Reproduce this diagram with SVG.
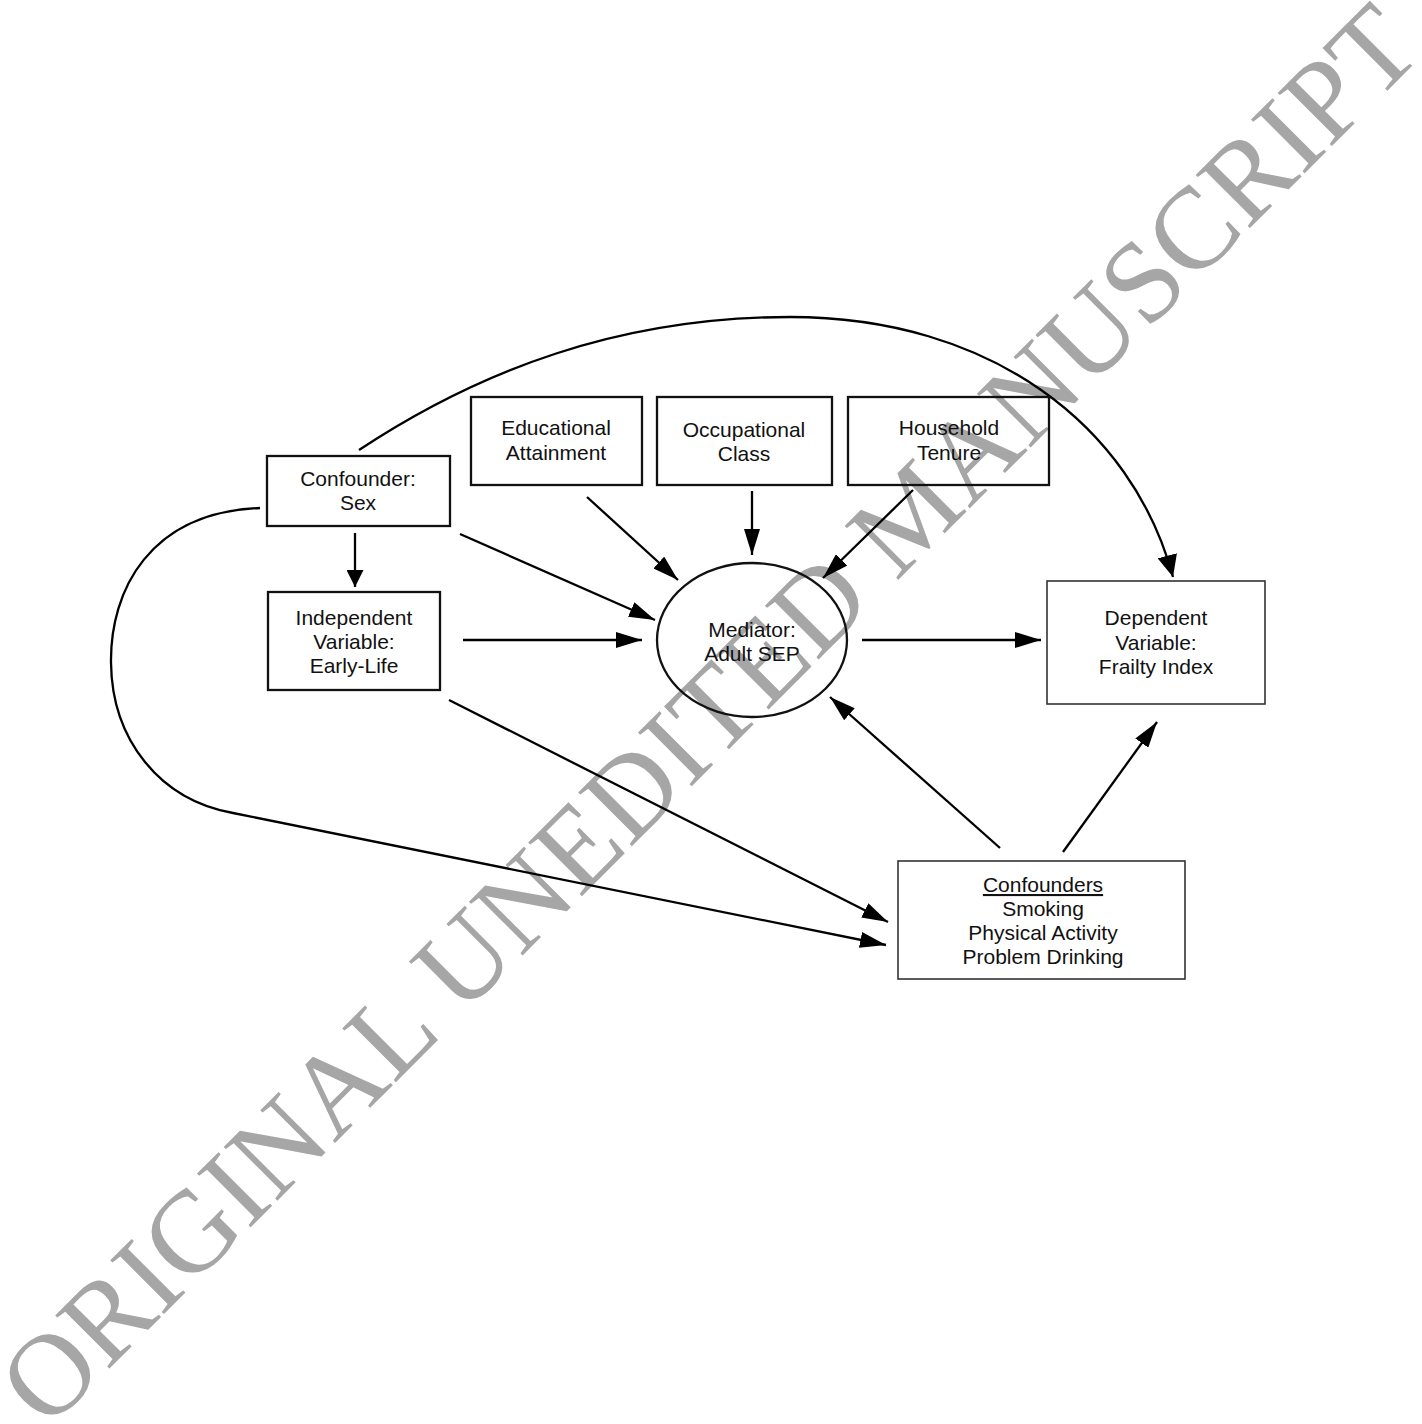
<svg xmlns="http://www.w3.org/2000/svg" width="1422" height="1424" viewBox="0 0 1422 1424">
<defs>
<style>
.box{fill:none;stroke:#111;stroke-width:2.3}
.thin{fill:none;stroke:#333;stroke-width:1.6}
.lbl{font-family:"Liberation Sans",Arial,sans-serif;font-size:21px;fill:#111;text-anchor:middle}
.edge{fill:none;stroke:#000;stroke-width:2.3}
.wm{font-family:"Liberation Serif","Times New Roman",serif;font-size:116px;fill:#a6a6a6;text-anchor:middle}
</style>
<marker id="ah" markerUnits="userSpaceOnUse" markerWidth="26" markerHeight="16" refX="26" refY="8" orient="auto">
<path d="M0,0 L26,8 L0,16 z" fill="#000"/>
</marker>
<marker id="ahs" markerUnits="userSpaceOnUse" markerWidth="22" markerHeight="20" refX="22" refY="10" orient="auto">
<path d="M0,0 L22,10 L0,20 z" fill="#000"/>
</marker>
<marker id="ahv" markerUnits="userSpaceOnUse" markerWidth="17" markerHeight="17" refX="17" refY="8.5" orient="auto">
<path d="M0,0 L17,8.5 L0,17 z" fill="#000"/>
</marker>
</defs>
<rect width="1422" height="1424" fill="#fff"/>
<text class="wm" transform="translate(736,742) rotate(-45)">ORIGINAL UNEDITED MANUSCRIPT</text>
<g id="connectors">
<path class="edge" d="M359,450 C480,370 620,317 790,317 C990,317 1132,425 1173,577" marker-end="url(#ahs)"/>
<path class="edge" d="M260,508 C150,512 110,590 111,663 C112,740 160,800 233,813 L886,945" marker-end="url(#ah)"/>
<line class="edge" x1="355" y1="533" x2="355" y2="587" marker-end="url(#ahv)"/>
<line class="edge" x1="460" y1="534" x2="655" y2="620" marker-end="url(#ah)"/>
<line class="edge" x1="463" y1="640" x2="642" y2="640" marker-end="url(#ah)"/>
<line class="edge" x1="587" y1="497" x2="678" y2="580" marker-end="url(#ah)"/>
<line class="edge" x1="752" y1="491" x2="752" y2="555" marker-end="url(#ah)"/>
<line class="edge" x1="913" y1="490" x2="823" y2="578" marker-end="url(#ah)"/>
<line class="edge" x1="862" y1="640" x2="1041" y2="640" marker-end="url(#ah)"/>
<line class="edge" x1="1000" y1="848" x2="830" y2="697" marker-end="url(#ah)"/>
<line class="edge" x1="1063" y1="852" x2="1157" y2="722" marker-end="url(#ah)"/>
<line class="edge" x1="449" y1="700" x2="888" y2="922" marker-end="url(#ah)"/>
</g>
<g id="sex">
<rect class="box" x="267" y="456" width="183" height="70"/>
<text class="lbl" x="358" y="486">Confounder:</text>
<text class="lbl" x="358" y="510">Sex</text>
</g>
<g id="education">
<rect class="box" x="471" y="397" width="171" height="88"/>
<text class="lbl" x="556" y="435">Educational</text>
<text class="lbl" x="556" y="460">Attainment</text>
</g>
<g id="occupation">
<rect class="box" x="657" y="397" width="175" height="88"/>
<text class="lbl" x="744" y="437">Occupational</text>
<text class="lbl" x="744" y="461">Class</text>
</g>
<g id="household">
<rect class="box" x="848" y="397" width="201" height="88"/>
<text class="lbl" x="949" y="435">Household</text>
<text class="lbl" x="949" y="460">Tenure</text>
</g>
<g id="independent">
<rect class="box" x="268" y="592" width="172" height="98"/>
<text class="lbl" x="354" y="625">Independent</text>
<text class="lbl" x="354" y="649">Variable:</text>
<text class="lbl" x="354" y="673">Early-Life</text>
</g>
<g id="mediator">
<ellipse class="box" cx="752" cy="640" rx="95" ry="77"/>
<text class="lbl" x="752" y="637">Mediator:</text>
<text class="lbl" x="752" y="661">Adult SEP</text>
</g>
<g id="dependent">
<rect class="thin" x="1047" y="581" width="218" height="123"/>
<text class="lbl" x="1156" y="625">Dependent</text>
<text class="lbl" x="1156" y="650">Variable:</text>
<text class="lbl" x="1156" y="674">Frailty Index</text>
</g>
<g id="confounders">
<rect class="thin" x="898" y="861" width="287" height="118"/>
<text class="lbl" x="1043" y="892" text-decoration="underline">Confounders</text>
<text class="lbl" x="1043" y="916">Smoking</text>
<text class="lbl" x="1043" y="940">Physical Activity</text>
<text class="lbl" x="1043" y="964">Problem Drinking</text>
</g>
</svg>
